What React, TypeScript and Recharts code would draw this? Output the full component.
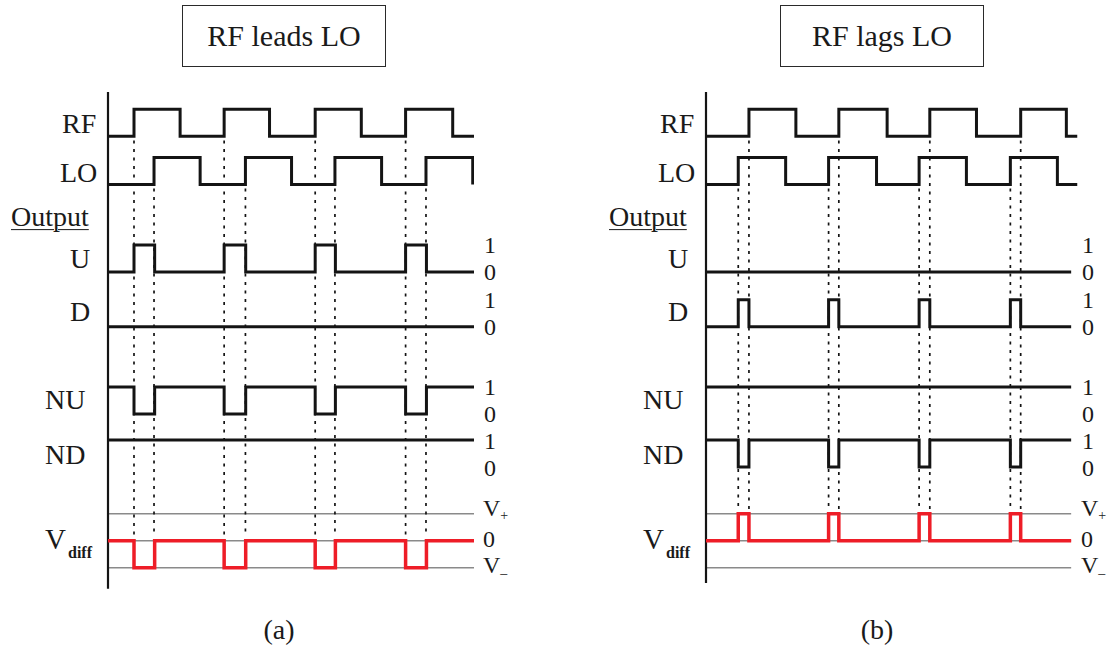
import React from 'react';
import { LineChart, Line, XAxis, YAxis, ReferenceLine } from 'recharts';

// ---------------- DATA (time in tenths of one clock period) ----------------
// Panel (a): RF leads LO
const A_RF_EDGES = [2.87, 7.96, 12.82, 17.83, 22.87, 27.96, 32.85, 38.05];
const A_LO_EDGES = [5.08, 10.17, 15.17, 20.26, 25.05, 30.2, 35.1, 40.26];
const A_U_EDGES = [2.87, 5.15, 12.82, 15.2, 22.87, 25.1, 32.85, 35.15];
const A_D_EDGES: number[] = [];
const A_NU_EDGES = [2.87, 5.15, 12.82, 15.2, 22.87, 25.1, 32.85, 35.15];
const A_ND_EDGES: number[] = [];
const A_VDIFF_EDGES = [2.87, 5.15, 12.82, 15.2, 22.87, 25.1, 32.85, 35.15];
const A_CLOCK_END = 40.4;
const A_OUT_END = 40.4;

// Panel (b): RF lags LO
const B_RF_EDGES = [4.74, 9.92, 14.66, 19.99, 24.7, 29.85, 34.73, 39.77];
const B_LO_EDGES = [3.56, 8.79, 13.53, 18.82, 23.52, 28.74, 33.59, 38.78];
const B_U_EDGES: number[] = [];
const B_D_EDGES = [3.56, 4.74, 13.53, 14.66, 23.52, 24.7, 33.59, 34.73];
const B_NU_EDGES: number[] = [];
const B_ND_EDGES = [3.56, 4.74, 13.53, 14.66, 23.52, 24.7, 33.59, 34.73];
const B_VDIFF_EDGES = [3.56, 4.74, 13.53, 14.66, 23.52, 24.7, 33.59, 34.73];
const B_CLOCK_END = 41.0;
const B_OUT_END = 40.3;

// logic levels: [idle, active]
const RF_LEVELS = [0, 1];
const LO_LEVELS = [0, 1];
const U_LEVELS = [0, 1];
const D_LEVELS = [0, 1];
const NU_LEVELS = [1, 0];
const ND_LEVELS = [1, 0];
const A_VDIFF_LEVELS = [0, -1];
const B_VDIFF_LEVELS = [0, 1];

// labels
const TITLES = ['RF leads LO', 'RF lags LO'];
const CAPTIONS = ['(a)', '(b)'];
const SIGNAL_NAMES = ['RF', 'LO', 'Output', 'U', 'D', 'NU', 'ND'];
const BINARY_TICKS = ['1', '0'];
const VDIFF_TICKS = ['V', '0', 'V'];
const VDIFF_SUBS = ['+', '', '\u2013'];

// ---------------- LAYOUT ----------------
const FONT = "'Liberation Serif', 'Times New Roman', Times, serif";
const Y_MAX = 24; // 1 unit = 27px
const BASE = { RF: 18.95, LO: 17.17, U: 13.93, D: 11.9, NU: 8.67, ND: 6.7, VD: 3.97 };

type Pt = { t: number; v: number };
function stepPoints(edges: number[], levels: number[], end: number, base: number): Pt[] {
  const pts: Pt[] = [{ t: 0, v: base + levels[0] }];
  let cur = levels[0];
  edges.forEach((e, i) => {
    cur = i % 2 === 0 ? levels[1] : levels[0];
    pts.push({ t: e, v: base + cur });
  });
  const last = edges.length ? edges[edges.length - 1] : 0;
  if (end > last + 0.2) pts.push({ t: end, v: base + cur });
  return pts;
}

type PanelCfg = {
  offsetX: number;
  marginLeft: number;
  marginRight: number;
  domainMax: number;
  rf: number[]; lo: number[]; u: number[]; d: number[]; nu: number[]; nd: number[]; vd: number[];
  vdLevels: number[];
  clockEnd: number; outEnd: number;
  guideBottom: number; axisBottom: number;
};

const PANELS: PanelCfg[] = [
  {
    offsetX: 0, marginLeft: 108, marginRight: 82, domainMax: 40.4,
    rf: A_RF_EDGES, lo: A_LO_EDGES, u: A_U_EDGES, d: A_D_EDGES, nu: A_NU_EDGES, nd: A_ND_EDGES, vd: A_VDIFF_EDGES,
    vdLevels: A_VDIFF_LEVELS, clockEnd: A_CLOCK_END, outEnd: A_OUT_END,
    guideBottom: 4.11, axisBottom: 2.19,
  },
  {
    offsetX: 556, marginLeft: 150, marginRight: 34.5, domainMax: 41.0,
    rf: B_RF_EDGES, lo: B_LO_EDGES, u: B_U_EDGES, d: B_D_EDGES, nu: B_NU_EDGES, nd: B_ND_EDGES, vd: B_VDIFF_EDGES,
    vdLevels: B_VDIFF_LEVELS, clockEnd: B_CLOCK_END, outEnd: B_OUT_END,
    guideBottom: 5.11, axisBottom: 2.41,
  },
];

function risingEdges(edges: number[]) {
  return edges.filter((_, i) => i % 2 === 0);
}

function WaveChart({ p }: { p: PanelCfg }) {
  const black = '#141414';
  const series = [
    stepPoints(p.rf, RF_LEVELS, p.clockEnd, BASE.RF),
    stepPoints(p.lo, LO_LEVELS, p.clockEnd, BASE.LO),
    stepPoints(p.u, U_LEVELS, p.outEnd, BASE.U),
    stepPoints(p.d, D_LEVELS, p.outEnd, BASE.D),
    stepPoints(p.nu, NU_LEVELS, p.outEnd, BASE.NU),
    stepPoints(p.nd, ND_LEVELS, p.outEnd, BASE.ND),
  ];
  const vd = stepPoints(p.vd, p.vdLevels, p.outEnd, BASE.VD);
  const rfGuides = risingEdges(p.rf).filter((t) => t < p.outEnd);
  const loGuides = risingEdges(p.lo).filter((t) => t < p.outEnd);
  return (
    <div style={{ position: 'absolute', left: p.offsetX, top: 0 }}>
      <LineChart width={556} height={648} margin={{ top: 0, right: p.marginRight, bottom: 0, left: p.marginLeft }}>
        <XAxis type="number" dataKey="t" domain={[0, p.domainMax]} hide allowDataOverflow />
        <YAxis type="number" domain={[0, Y_MAX]} hide allowDataOverflow />
        {[1, 0, -1].map((k) => (
          <ReferenceLine
            key={'g' + k}
            segment={[{ x: 0, y: BASE.VD + k }, { x: p.outEnd, y: BASE.VD + k }]}
            stroke="#8a8a8a"
            strokeWidth={1.4}
            ifOverflow="visible"
          />
        ))}
        <ReferenceLine
          segment={[{ x: 0, y: 20.59 }, { x: 0, y: p.axisBottom }]}
          stroke={black}
          strokeWidth={2.2}
          ifOverflow="visible"
        />
        {rfGuides.map((t, i) => (
          <ReferenceLine
            key={'rg' + i}
            segment={[{ x: t, y: BASE.RF - 0.15 }, { x: t, y: p.guideBottom }]}
            stroke={black}
            strokeWidth={1.7}
            strokeDasharray="3 5.5"
            ifOverflow="visible"
          />
        ))}
        {loGuides.map((t, i) => (
          <ReferenceLine
            key={'lg' + i}
            segment={[{ x: t, y: BASE.LO - 0.15 }, { x: t, y: p.guideBottom }]}
            stroke={black}
            strokeWidth={1.7}
            strokeDasharray="3 5.5"
            ifOverflow="visible"
          />
        ))}
        {series.map((s, i) => (
          <Line
            key={'s' + i}
            data={s}
            dataKey="v"
            type="stepAfter"
            stroke={black}
            strokeWidth={3}
            dot={false}
            activeDot={false}
            isAnimationActive={false}
            strokeLinejoin="miter"
            strokeLinecap="butt"
          />
        ))}
        <Line
          data={vd}
          dataKey="v"
          type="stepAfter"
          stroke="#ee1d27"
          strokeWidth={3.5}
          dot={false}
          activeDot={false}
          isAnimationActive={false}
          strokeLinejoin="miter"
          strokeLinecap="butt"
        />
      </LineChart>
    </div>
  );
}

function T({ x, y, size = 28, bold = false, center = false, underline = false, lh = 1, children }: any) {
  return (
    <div
      style={{
        position: 'absolute',
        left: x,
        top: y,
        fontSize: size,
        fontWeight: bold ? 700 : 400,
        lineHeight: lh,
        whiteSpace: 'nowrap',
        transform: center ? 'translate(-50%, -50%)' : 'translateY(-50%)',
        textDecoration: underline ? 'underline' : 'none',
        textDecorationThickness: underline ? '1.3px' : undefined,
        textUnderlineOffset: underline ? '3px' : undefined,
        color: '#1a1a1a',
      }}
    >
      {children}
    </div>
  );
}

// label placement (panel-relative x, page y)
const LEFT_X = [62, 60, 11, 70, 70, 45, 45];
const LEFT_Y = [124, 173, 217, 259, 312, 400, 455];
const BIN_ROWS_Y = [[245, 272], [300, 327], [387, 414], [441, 468]];
const VD_TICK_Y = [510, 539, 567];
const PANEL_SHIFT = [0, 598];

export default function App() {
  return (
    <div
      style={{
        position: 'absolute',
        left: 0,
        top: 0,
        width: 1112,
        height: 648,
        background: '#fff',
        fontFamily: FONT,
        overflow: 'hidden',
      }}
    >
      {PANELS.map((p, i) => (
        <WaveChart key={i} p={p} />
      ))}
      {PANEL_SHIFT.map((dx, pi) => (
        <React.Fragment key={'p' + pi}>
          <div
            style={{
              position: 'absolute',
              left: 182 + dx,
              top: 5,
              width: 204,
              height: 62,
              boxSizing: 'border-box',
              border: '1.6px solid #2a2a2a',
              display: 'flex',
              alignItems: 'center',
              justifyContent: 'center',
              fontSize: 30,
              color: '#1a1a1a',
              whiteSpace: 'nowrap',
            }}
          >
            {TITLES[pi]}
          </div>
          {SIGNAL_NAMES.map((n, k) => (
            <T key={'n' + k} x={LEFT_X[k] + dx} y={LEFT_Y[k]} underline={n === 'Output'} lh={0.85}>
              {n}
            </T>
          ))}
          <T x={45 + dx} y={540} size={29} lh={0.8}>V</T>
          <T x={68 + dx} y={553} size={16} bold lh={0.8}>diff</T>
          {BIN_ROWS_Y.map((row, r) =>
            row.map((yy, k) => (
              <T key={'b' + r + k} x={484 + dx} y={yy} size={24} lh={0.85}>
                {BINARY_TICKS[k]}
              </T>
            ))
          )}
          {VDIFF_TICKS.map((txt, k) => (
            <T key={'v' + k} x={483 + dx} y={VD_TICK_Y[k]} size={24} lh={0.85}>
              {txt}
              {VDIFF_SUBS[k] ? (
                <span style={{ fontSize: 14, verticalAlign: k === 0 ? '-0.25em' : '-0.35em' }}>{VDIFF_SUBS[k]}</span>
              ) : null}
            </T>
          ))}
          <T x={279 + dx} y={630} size={28} center>
            {CAPTIONS[pi]}
          </T>
        </React.Fragment>
      ))}
    </div>
  );
}
